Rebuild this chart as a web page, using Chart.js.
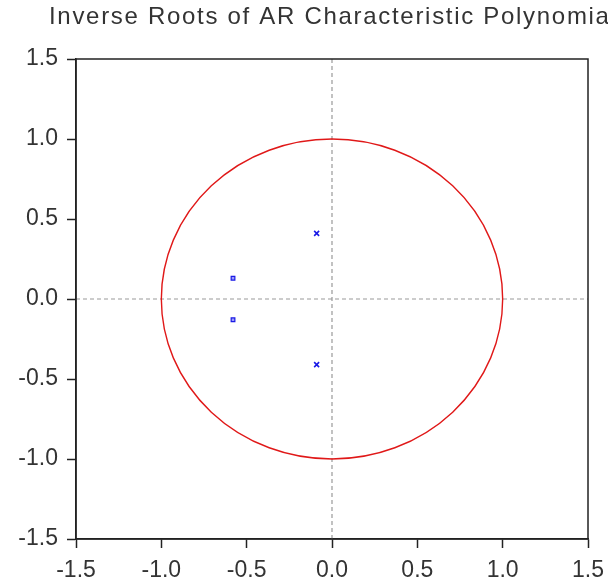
<!DOCTYPE html>
<html>
<head>
<meta charset="utf-8">
<script src="https://cdn.jsdelivr.net/npm/chart.js@4.4.0/dist/chart.umd.min.js"></script>
<style>
  html, body { margin: 0; padding: 0; background: #fff; }
  #wrap { width: 608px; height: 588px; }
</style>
</head>
<body>
<div id="wrap"><canvas id="rootsChart"></canvas></div>
<script>
const chartTitle = 'Inverse Roots of AR Characteristic Polynomial';

const complexRootsRe = [-0.09, -0.09];
const complexRootsIm = [0.41, -0.41];
const otherRootsRe = [-0.58, -0.58];
const otherRootsIm = [0.13, -0.13];

const axisTicks = [-1.5, -1.0, -0.5, 0.0, 0.5, 1.0, 1.5];
const unitRadius = 1;

const textColor = '#333';
const axisColor = '#222';
const pointBlue = '#1a1ae6';

// draws the title, plot frame, zero lines and the unit circle
const decorations = {
    id: 'decorations',
    beforeDatasetsDraw(chart) {
        const ctx = chart.ctx;
        const area = chart.chartArea;
        const xs = chart.scales.x;
        const ys = chart.scales.y;
        const x0 = xs.getPixelForValue(0);
        const y0 = ys.getPixelForValue(0);

        ctx.save();
        // dashed zero lines
        ctx.strokeStyle = '#999';
        ctx.lineWidth = 1.2;
        ctx.setLineDash([4, 3]);
        ctx.beginPath();
        ctx.moveTo(x0, area.top);
        ctx.lineTo(x0, area.bottom);
        ctx.moveTo(area.left, y0);
        ctx.lineTo(area.right, y0);
        ctx.stroke();
        ctx.setLineDash([]);

        // unit circle
        const rx = xs.getPixelForValue(unitRadius) - x0;
        const ry = y0 - ys.getPixelForValue(unitRadius);
        ctx.strokeStyle = '#e01818';
        ctx.lineWidth = 1.4;
        ctx.beginPath();
        ctx.ellipse(x0, y0, rx, ry, 0, 0, Math.PI * 2);
        ctx.stroke();

        // frame
        ctx.strokeStyle = axisColor;
        ctx.lineWidth = 1.5;
        ctx.strokeRect(area.left, area.top, area.right - area.left, area.bottom - area.top);

        // title (runs off the right edge like the original)
        ctx.fillStyle = textColor;
        ctx.font = '24px "Liberation Sans", Arial, sans-serif';
        ctx.letterSpacing = '1.7px';
        ctx.textBaseline = 'middle';
        ctx.textAlign = 'left';
        ctx.fillText(chartTitle, 49, 17);
        ctx.restore();
    }
};

const tickFont = { family: '"Liberation Sans", Arial, sans-serif', size: 23 };

function axisOptions(isX) {
    return {
        type: 'linear',
        min: -1.5,
        max: 1.5,
        afterBuildTicks(scale) {
            scale.ticks = axisTicks.map(v => ({ value: v }));
        },
        afterFit(scale) {
            if (isX) {
                scale.height = 49;
                scale.paddingRight = 0;
            } else {
                scale.width = 76;
            }
        },
        ticks: {
            color: textColor,
            font: tickFont,
            padding: isX ? 9 : 9,
            callback: v => Number(v).toFixed(1)
        },
        grid: {
            drawOnChartArea: false,
            drawTicks: true,
            tickLength: 9,
            tickWidth: 1.5,
            color: axisColor
        },
        border: { display: true, color: axisColor, width: 1.5 }
    };
}

new Chart(document.getElementById('rootsChart'), {
    type: 'scatter',
    data: {
        datasets: [
            {
                label: 'Complex roots',
                data: complexRootsRe.map((x, i) => ({ x, y: complexRootsIm[i] })),
                pointStyle: 'crossRot',
                pointRadius: 3.5,
                borderColor: pointBlue,
                borderWidth: 1.6
            },
            {
                label: 'Roots',
                data: otherRootsRe.map((x, i) => ({ x, y: otherRootsIm[i] })),
                pointStyle: 'rect',
                pointRadius: 2.6,
                borderColor: pointBlue,
                backgroundColor: 'rgba(60, 60, 240, 0.5)',
                borderWidth: 1.2
            }
        ]
    },
    plugins: [decorations],
    options: {
        responsive: true,
        maintainAspectRatio: false,
        animation: false,
        layout: { padding: { left: 0, right: 20, top: 59, bottom: 0 } },
        plugins: {
            legend: { display: false },
            title: { display: false },
            tooltip: { enabled: false }
        },
        scales: {
            x: axisOptions(true),
            y: axisOptions(false)
        }
    }
});
</script>
</body>
</html>
